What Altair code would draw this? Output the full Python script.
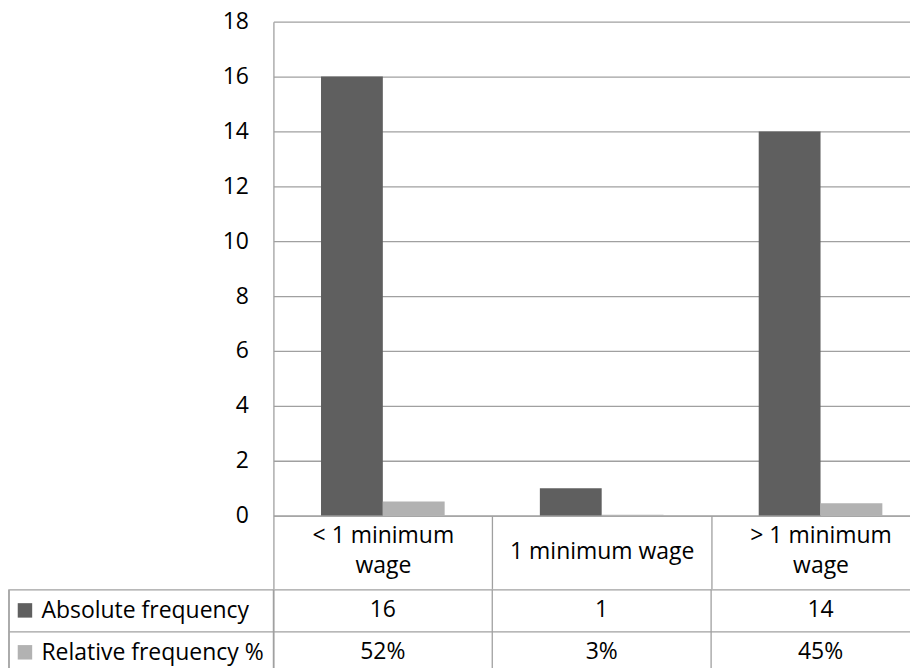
import altair as alt
import pandas as pd

# ---- data ----
categories = ["< 1 minimum wage", "1 minimum wage", "> 1 minimum wage"]
series = ["Absolute frequency", "Relative frequency %"]
absolute = [16, 1, 14]
relative = [0.516, 0.032, 0.452]
relative_labels = ["52%", "3%", "45%"]
y_ticks = [0, 2, 4, 6, 8, 10, 12, 14, 16, 18]

# ---- styling ----
colors = ["#5f5f5f", "#b2b2b2"]
FONT = "Open Sans"
FS = 23
LINE = "#a0a0a0"
LW = 1.3
W = 658          # full width of the three category columns (right part is cropped)
H_TOP = 495
HEADER = 73
ROW = 42
LABEL_COL = 265

df = pd.DataFrame({
    "cat": categories * 2,
    "series": [series[0]] * 3 + [series[1]] * 3,
    "value": absolute + relative,
    "label": [str(v) for v in absolute] + relative_labels,
})
keys = pd.DataFrame({"series": series})
cols = pd.DataFrame({"cat": categories})

xscale = alt.Scale(domain=categories, paddingInner=0, paddingOuter=0)
cscale = alt.Scale(domain=series, range=colors)

two_line = "(datum.label == '< 1 minimum wage' || datum.label == '> 1 minimum wage')"

top = alt.Chart(df).mark_bar().encode(
    x=alt.X("cat:N", scale=xscale, sort=categories, title=None,
            axis=alt.Axis(orient="bottom", tickBand="extent", ticks=True,
                          tickSize=HEADER, tickColor=LINE, tickWidth=LW,
                          domain=True, domainColor=LINE, domainWidth=LW,
                          grid=False, labelAngle=0, labelFont=FONT,
                          labelFontSize=FS, labelColor="black",
                          labelPadding={"condition": {"test": two_line, "value": -53},
                                        "value": -37},
                          labelBaseline="middle",
                          labelLineHeight=30, labelLimit=0,
                          labelExpr=two_line + " ? [replace(datum.label, ' wage', ''), 'wage'] : datum.label")),
    xOffset=alt.XOffset("series:N", sort=series,
                        scale=alt.Scale(domain=series, paddingInner=0, paddingOuter=0.77)),
    y=alt.Y("value:Q", title=None,
            scale=alt.Scale(domain=[0, 18], nice=False),
            axis=alt.Axis(values=y_ticks, ticks=False, grid=True,
                          gridColor=LINE, gridWidth=LW, domain=True,
                          domainColor=LINE, domainWidth=LW,
                          labelFont=FONT, labelFontSize=FS,
                          labelColor="black", labelPadding=25)),
    color=alt.Color("series:N", scale=cscale, legend=None),
).properties(width=W, height=H_TOP)

row_axis = alt.Axis(orient="left", tickBand="extent", ticks=True,
                    tickSize=LABEL_COL, tickColor=LINE, tickWidth=LW,
                    grid=True, gridColor=LINE, gridWidth=LW,
                    domain=True, domainColor=LINE, domainWidth=LW,
                    labelAlign="left", labelPadding=-32,
                    labelFont=FONT, labelFontSize=FS, labelColor="black",
                    labelBaseline="middle", labelLimit=0)
yrow = alt.Y("series:N", sort=series, title=None,
             scale=alt.Scale(domain=series, paddingInner=0, paddingOuter=0),
             axis=row_axis)
xcat = alt.X("cat:N", scale=xscale, sort=categories, title=None, axis=None)

cells = alt.Chart(df).mark_text(font=FONT, fontSize=FS, color="black").encode(
    x=xcat, y=yrow, text="label:N",
)
col_lines = alt.Chart(cols).mark_rule(color=LINE, strokeWidth=LW).encode(
    x=alt.X("cat:N", scale=xscale, sort=categories, title=None, axis=None,
            bandPosition=0),
)
squares = alt.Chart(keys).mark_square(size=210, opacity=1).encode(
    x=alt.value(-(LABEL_COL - 16)),
    y=yrow,
    color=alt.Color("series:N", scale=cscale, legend=None),
)
left_border = alt.Chart(keys).mark_rule(color=LINE, strokeWidth=LW).encode(
    x=alt.value(-LABEL_COL), y=alt.value(0), y2=alt.value(2 * ROW)
)

table = alt.layer(col_lines, cells, squares, left_border).properties(
    width=W, height=2 * ROW)

chart = alt.vconcat(top, table, spacing=-11).properties(
    padding={"left": 0, "top": 2, "right": -21, "bottom": -5}
).configure_view(stroke=None)

chart.save("out.html", embed_options={"renderer": "svg", "actions": False})
